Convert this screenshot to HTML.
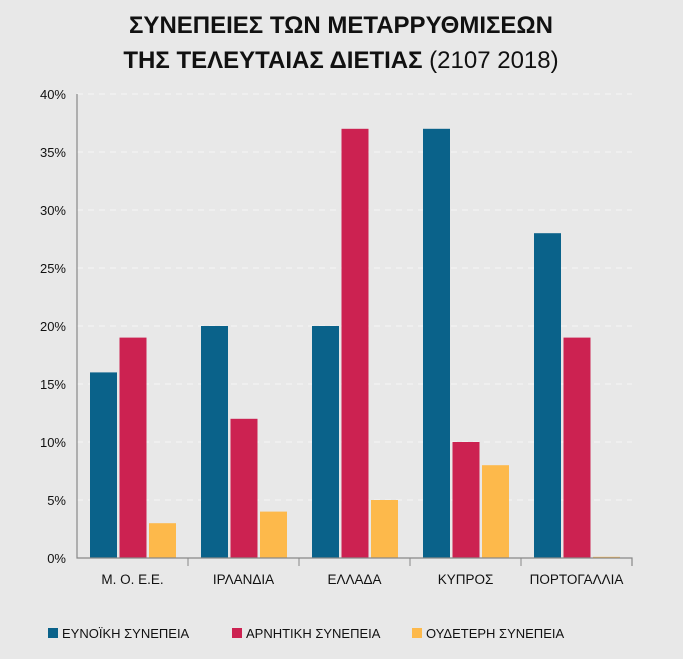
<!DOCTYPE html>
<html><head><meta charset="utf-8"><style>
body{margin:0;background:#e8e8e8;}
svg text{font-family:"Liberation Sans","DejaVu Sans",sans-serif;fill:#111;}
</style></head><body>
<svg id="c" width="683" height="654" viewBox="0 0 683 654" xmlns="http://www.w3.org/2000/svg">
<rect width="683" height="654" fill="#e8e8e8"/>
<text x="341" y="33" text-anchor="middle" font-size="24" font-weight="bold">ΣΥΝΕΠΕΙΕΣ ΤΩΝ ΜΕΤΑΡΡΥΘΜΙΣΕΩΝ</text>
<text x="341" y="68" text-anchor="middle" font-size="24"><tspan font-weight="bold">ΤΗΣ ΤΕΛΕΥΤΑΙΑΣ ΔΙΕΤΙΑΣ</tspan> (2107 2018)</text>
<g id="grid"></g><g id="bars"></g><g id="axes"></g><g id="legend"></g>
</svg>
<script>
const categories=["Μ. Ο. Ε.Ε.","ΙΡΛΑΝΔΙΑ","ΕΛΛΑΔΑ","ΚΥΠΡΟΣ","ΠΟΡΤΟΓΑΛΛΙΑ"];
const favorable=[16,20,20,37,28];
const negative=[19,12,37,10,19];
const neutral=[3,4,5,8,0.1];
const seriesNames=["ΕΥΝΟΪΚΗ ΣΥΝΕΠΕΙΑ","ΑΡΝΗΤΙΚΗ ΣΥΝΕΠΕΙΑ","ΟΥΔΕΤΕΡΗ ΣΥΝΕΠΕΙΑ"];
const yTicks=[0,5,10,15,20,25,30,35,40];
const colors=["#0a628a","#cc2251","#fdb94b"];
const NS="http://www.w3.org/2000/svg";
const x0=77,x1=632,y0=558,yTop=94,yMax=40;
const gw=(x1-x0)/categories.length;
const y=v=>y0-(v/yMax)*(y0-yTop);
function mk(t,a,p){const e=document.createElementNS(NS,t);for(const k in a)e.setAttribute(k,a[k]);p.appendChild(e);return e;}
const grid=document.getElementById('grid'),bars=document.getElementById('bars'),axes=document.getElementById('axes'),legend=document.getElementById('legend');
yTicks.forEach(t=>{
 if(t>0){const l=mk('line',{x1:x0,x2:x1,y1:y(t),y2:y(t),stroke:'#fafafa','stroke-dasharray':'6,5','stroke-width':0.8},grid);
 
 }
 const tx=mk('text',{x:66,y:y(t)+5,'text-anchor':'end','font-size':13},axes);tx.textContent=t+'%';
 
 
});
const series=[favorable,negative,neutral];
categories.forEach((c,i)=>{
 const gx=x0+i*gw;
 series.forEach((s,j)=>{
  const bx=gx+13+j*29.5;
  const r=mk('rect',{x:bx,y:y(s[i]),width:27,height:y0-y(s[i]),fill:colors[j]},bars);
  
  
 });
 const tx=mk('text',{x:gx+gw/2,y:584,'text-anchor':'middle','font-size':13.5},axes);tx.textContent=c;
 
 
 if(i>0){const tk=mk('line',{x1:gx,x2:gx,y1:y0,y2:y0+8,stroke:'#888'},axes);
 
 }
});
const ax=mk('path',{d:`M${x0},${yTop} V${y0} H${x1} V${y0+8}`,stroke:'#888',fill:'none','stroke-width':1.2},axes);


const lx=[48,232,412];
seriesNames.forEach((n,j)=>{
 const r=mk('rect',{x:lx[j],y:628,width:10,height:10,fill:colors[j]},legend);
 
 
 const t=mk('text',{x:lx[j]+14,y:638,'font-size':13},legend);t.textContent=n;
 
 
});
</script>
</body></html>
